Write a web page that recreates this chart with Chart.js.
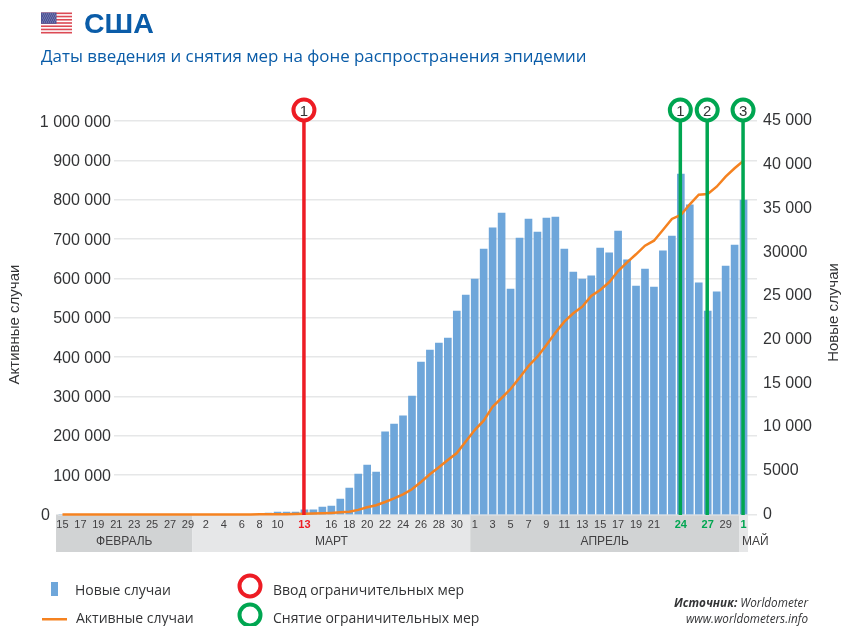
<!DOCTYPE html>
<html lang="ru">
<head>
<meta charset="utf-8">
<title>США</title>
<script src="https://cdn.jsdelivr.net/npm/chart.js@4"></script>
<style>
html,body{margin:0;padding:0;background:#fff}
canvas{display:block}
</style>
</head>
<body>
<canvas id="c" width="841" height="626"></canvas>
<script>
const febDays = [15,16,17,18,19,20,21,22,23,24,25,26,27,28,29];
const marDays = [1,2,3,4,5,6,7,8,9,10,11,12,13,14,15,16,17,18,19,20,21,22,23,24,25,26,27,28,29,30,31];
const aprDays = [1,2,3,4,5,6,7,8,9,10,11,12,13,14,15,16,17,18,19,20,21,22,23,24,25,26,27,28,29,30];
const mayDays = [1,2];

const febNew = [0,0,0,0,0,0,0,0,0,0,0,0,0,0,0];
const marNew = [0,0,0,0,0,0,0,0,170,290,290,290,520,520,860,970,1770,3030,4630,5660,4860,9440,10350,11270,13550,17440,18810,19610,20180,23270,25100];
const aprNew = [26930,30360,32770,34480,25790,31620,33790,32310,33910,34020,30360,27730,26930,27280,30480,29910,32420,29110,26130,28080,26020,30140,31850,38940,35400,26480,23270,25450,28420,30820];
const mayNew = [35970,null];

const febActive = [12,12,12,12,12,12,12,12,12,12,12,12,12,13,13];
const marActive = [60,70,80,100,150,200,250,350,450,650,900,1300,1900,2400,3000,4000,5500,7100,11700,18300,23400,31800,41200,51300,64000,82600,102200,120000,138500,156300,185500];
const aprActive = [214700,238400,274000,296100,318900,347700,377400,401000,430700,462000,490000,511300,528100,555300,570500,590100,618800,640900,661300,683100,695800,723000,751000,761100,788300,812700,814500,833000,858500,879800];
const mayActive = [899100,null];

const shownFeb = [15,17,19,21,23,25,27,29];
const shownMar = [2,4,6,8,10,13,16,18,20,22,24,26,28,30];
const shownApr = [1,3,5,7,9,11,13,15,17,19,21,24,27,29];
const shownMay = [1];

const monthNames = ['ФЕВРАЛЬ','МАРТ','АПРЕЛЬ','МАЙ'];
const monthLengths = [febDays.length, marDays.length, aprDays.length, 1];

const leftTicks = [0,100000,200000,300000,400000,500000,600000,700000,800000,900000,1000000];
const leftLabels = ['0','100 000','200 000','300 000','400 000','500 000','600 000','700 000','800 000','900 000','1 000 000'];
const rightTicks = [0,5000,10000,15000,20000,25000,30000,35000,40000,45000];
const rightLabels = ['0','5000','10 000','15 000','20 000','25 000','30000','35 000','40 000','45 000'];

const introEvents = [['Мар',13,'1']];
const liftEvents = [['Апр',24,'1'],['Апр',27,'2'],['Май',1,'3']];

const titleText = 'США';
const subtitleText = 'Даты введения и снятия мер на фоне распространения эпидемии';
const leftAxisTitle = 'Активные случаи';
const rightAxisTitle = 'Новые случаи';
const legendBar = 'Новые случаи';
const legendLine = 'Активные случаи';
const legendIntro = 'Ввод ограничительных мер';
const legendLift = 'Снятие ограничительных мер';
const sourceHead = 'Источник:';
const sourceName = ' Worldometer';
const sourceUrl = 'www.worldometers.info';

const days = [...febDays, ...marDays, ...aprDays, ...mayDays];
const newCases = [...febNew, ...marNew, ...aprNew, ...mayNew];
const activeCases = [...febActive, ...marActive, ...aprActive, ...mayActive];
const offsets = {Мар: febDays.length, Апр: febDays.length + marDays.length, Май: febDays.length + marDays.length + aprDays.length};
const eventIndex = e => offsets[e[0]] + e[1] - 1;
const shownIndex = new Set([
  ...shownFeb.map(d => d - 15),
  ...shownMar.map(d => offsets.Мар + d - 1),
  ...shownApr.map(d => offsets.Апр + d - 1),
  ...shownMay.map(d => offsets.Май + d - 1)
]);
const introIdx = new Set(introEvents.map(eventIndex));
const liftIdx = new Set(liftEvents.map(eventIndex));

const RED = '#ed1c24', GREEN = '#00a651', BLUE = '#6ea6da', ORANGE = '#f58220', INK = '#333436', HEAD = '#0a5ca8';
const SANS = '"Liberation Sans", Arial, sans-serif';
const HUMAN = '"Open Sans", "Noto Sans", sans-serif';

function text(ctx, s, x, y, font, color, align) {
  ctx.font = font; ctx.fillStyle = color; ctx.textAlign = align || 'left'; ctx.textBaseline = 'alphabetic';
  ctx.fillText(s, x, y);
}
function ring(ctx, x, y, r, color, lw) {
  ctx.beginPath(); ctx.arc(x, y, r, 0, Math.PI * 2);
  ctx.fillStyle = '#fff'; ctx.fill();
  ctx.lineWidth = lw; ctx.strokeStyle = color; ctx.stroke();
}
function vertical(ctx, s, x, y, font) {
  ctx.save();
  ctx.translate(x, y); ctx.rotate(-Math.PI / 2);
  text(ctx, s, 0, 0, font, INK, 'center');
  ctx.restore();
}

const decor = {
  id: 'decor',
  beforeDraw(chart) {
    const {ctx, scales: {x}} = chart;
    const step = x.getPixelForValue(1) - x.getPixelForValue(0);
    let start = 0;
    ctx.save();
    monthNames.forEach((name, i) => {
      const x0 = i === 0 ? x.getPixelForValue(0) - step * 0.72 : x.getPixelForValue(start) - step / 2;
      const x1 = i === monthNames.length - 1 ? x.getPixelForValue(start) + step * 0.5 : x.getPixelForValue(start + monthLengths[i]) - step / 2;
      ctx.fillStyle = i % 2 === 0 ? '#d1d3d4' : '#e6e7e8';
      ctx.fillRect(x0, 514.5, x1 - x0, 37.5);
      if (i === monthNames.length - 1) text(ctx, name, x0 + 3, 545, '12px ' + SANS, '#414042');
      else text(ctx, name, (x0 + x1) / 2, 545, '12px ' + SANS, '#414042', 'center');
      start += monthLengths[i];
    });
    // Heading
    const fx = 41, fy = 12.5, fw = 31, fh = 21;
    ctx.fillStyle = '#fff'; ctx.fillRect(fx, fy, fw, fh);
    ctx.fillStyle = '#dc4a55';
    for (let i = 0; i < 13; i += 2) ctx.fillRect(fx, fy + i * fh / 13, fw, fh / 13);
    ctx.fillStyle = '#4f5596'; ctx.fillRect(fx, fy, 15.5, fh * 7 / 13);
    ctx.fillStyle = '#8a8fc0';
    for (let r = 0; r < 5; r++) for (let c = 0; c < 7; c++) ctx.fillRect(fx + 1 + c * 2 + (r % 2), fy + 1 + r * 2, 1, 1);
    text(ctx, titleText, 84, 33, 'bold 28.5px ' + SANS, HEAD);
    text(ctx, subtitleText, 41, 62, '16.9px ' + HUMAN, HEAD);
    // Legend
    ctx.fillStyle = BLUE; ctx.fillRect(51, 582, 7, 14);
    text(ctx, legendBar, 75, 595, '14px ' + HUMAN, INK);
    ctx.fillStyle = ORANGE; ctx.fillRect(42, 618, 25, 2.5);
    text(ctx, legendLine, 76, 623, '14px ' + HUMAN, INK);
    ring(ctx, 250, 586, 10.5, RED, 4);
    text(ctx, legendIntro, 273, 595, '14px ' + HUMAN, INK);
    ring(ctx, 250, 615, 10.5, GREEN, 4);
    text(ctx, legendLift, 273, 623, '14px ' + HUMAN, INK);
    // Source
    ctx.font = 'italic 11.7px ' + HUMAN;
    const w = ctx.measureText(sourceName).width;
    text(ctx, sourceName, 808, 607, 'italic 11.7px ' + HUMAN, INK, 'right');
    text(ctx, sourceHead, 808 - w, 607, 'italic bold 11.7px ' + HUMAN, INK, 'right');
    text(ctx, sourceUrl, 808, 622.5, 'italic 11.7px ' + HUMAN, INK, 'right');
    // Axis titles
    vertical(ctx, leftAxisTitle, 19, 324.5, '15px ' + SANS);
    vertical(ctx, rightAxisTitle, 838, 312.5, '15px ' + SANS);
    ctx.restore();
  },
  beforeDatasetsDraw(chart) {
    const {ctx, chartArea: a, scales: {y}} = chart;
    ctx.save();
    ctx.fillStyle = '#fff';
    ctx.fillRect(a.left, a.top - 2, 56, a.bottom - a.top - 1);
    y.ticks.forEach((t, i) => {
      const py = y.getPixelForValue(t.value) + 5.5;
      if (t.value === 0) text(ctx, leftLabels[i], 50, py, '16px ' + SANS, INK, 'right');
      else text(ctx, leftLabels[i], 111, py, '16px ' + SANS, INK, 'right');
    });
    ctx.restore();
  },
  afterDatasetsDraw(chart) {
    const {ctx, chartArea: a, scales: {x}} = chart;
    ctx.save();
    const mark = (events, color) => events.forEach(e => {
      const px = x.getPixelForValue(eventIndex(e)) - 0.5;
      ctx.fillStyle = color; ctx.fillRect(px - 1.75, 118, 3.5, a.bottom - 118 + 0.5);
      ring(ctx, px, 110, 10.5, color, 4);
      text(ctx, e[2], px, 115.5, '15px ' + SANS, INK, 'center');
    });
    mark(introEvents, RED);
    mark(liftEvents, GREEN);
    ctx.restore();
  }
};

new Chart(document.getElementById('c'), {
  type: 'bar',
  plugins: [decor],
  data: {
    labels: days,
    datasets: [
      {type: 'line', label: legendLine, data: activeCases, yAxisID: 'y', borderColor: ORANGE, borderWidth: 2.5, pointRadius: 0, tension: 0, order: 1, spanGaps: false, clip: 4},
      {type: 'bar', label: legendBar, data: newCases, yAxisID: 'y2', backgroundColor: BLUE, barThickness: 7, order: 2}
    ]
  },
  options: {
    responsive: false,
    animation: false,
    devicePixelRatio: 1,
    layout: {padding: {top: 121, left: 0, right: 0, bottom: 0}},
    plugins: {legend: {display: false}, tooltip: {enabled: false}},
    scales: {
      x: {
        grid: {display: false, drawTicks: false},
        border: {display: false},
        afterFit(s) { s.height = 111.5; },
        ticks: {
          autoSkip: false, maxRotation: 0, minRotation: 0, padding: 4,
          callback(v, i) { return shownIndex.has(i) ? String(days[i]) : ''; },
          color: c => introIdx.has(c.index) ? RED : liftIdx.has(c.index) ? GREEN : '#414042',
          font: c => ({family: SANS, size: 11, weight: (introIdx.has(c.index) || liftIdx.has(c.index)) ? 'bold' : 'normal'})
        }
      },
      y: {
        position: 'left', min: 0, max: 1000000,
        afterBuildTicks(s) { s.ticks = leftTicks.map(v => ({value: v})); },
        afterFit(s) { s.width = 58; },
        grid: {color: '#e6e7e8', lineWidth: 1.5, drawTicks: false},
        border: {display: false},
        ticks: {display: false}
      },
      y2: {
        position: 'right', min: 0, max: 45000,
        afterBuildTicks(s) { s.ticks = rightTicks.map(v => ({value: v})); },
        afterFit(s) { s.width = 84; },
        grid: {display: false, drawTicks: false},
        border: {display: false},
        ticks: {
          padding: 6, color: INK, font: {family: SANS, size: 16},
          callback(v) { return rightLabels[rightTicks.indexOf(v)]; }
        }
      }
    }
  }
});
</script>
</body>
</html>
